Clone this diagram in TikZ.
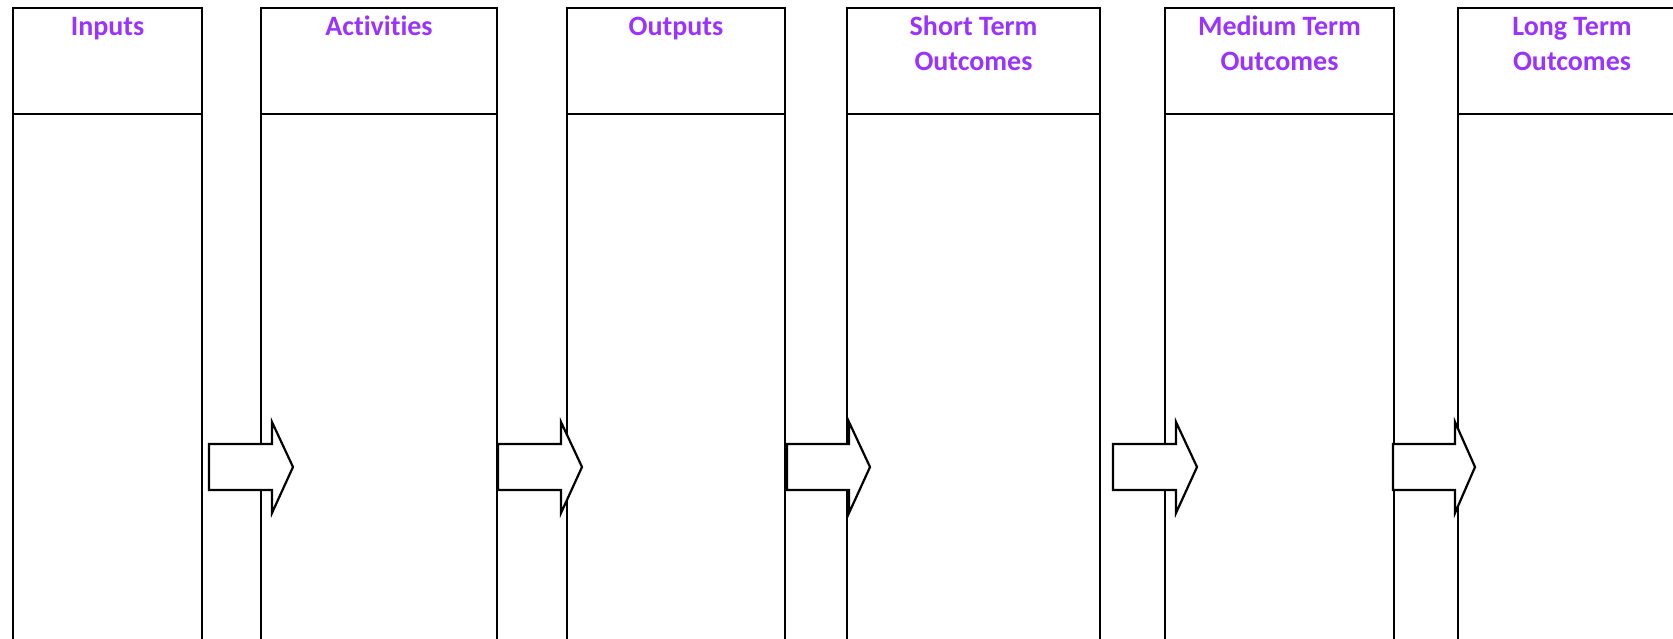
\documentclass[tikz,border=0pt]{standalone}
\usepackage{fontspec}
\setmainfont{Carlito}[Ligatures=NoCommon]
\usetikzlibrary{calc}
\definecolor{hdr}{RGB}{153,51,255}
\begin{document}
\begin{tikzpicture}[x=0.5pt,y=-0.5pt,line width=1.1pt,
  colbox/.style={draw=black,fill=white},
  hdrtext/.style={text=hdr,font=\fontsize{14pt}{17.5pt}\selectfont\bfseries,align=center,anchor=base,inner sep=0pt},
  blockarrow/.style={draw=black,fill=white,line width=1.1pt,line join=miter}]
\useasboundingbox (0,0) rectangle (1673,638);
\clip (0,0) rectangle (1673,638);
% columns: left/right/name/baseline of last line/text
\foreach \l/\r/\n/\b/\t in {13/202/inp/35/Inputs,261/497/act/35/Activities,567/785/out/35/Outputs,847/1100/st/70/Short Term\\Outcomes,1165/1394/mt/70/Medium Term\\Outcomes,1458/1686/lt/70/Long Term\\Outcomes}{
  \draw[colbox] (\l,8) rectangle (\r,700);
  \draw (\l,114) -- (\r,114);
  \node[hdrtext] (\n) at ({(\l+\r)/2},\b) {\t};
}
% block arrows: left x, head base x, tip x
\foreach \a/\b/\c in {209/272/293,498/561/582,787/849/870,1113/1176/1197,1393/1455/1475}{
  \draw[blockarrow] (\a,444) -- (\b,444) -- (\b,422) -- (\c,467) -- (\b,513) -- (\b,490) -- (\a,490) -- cycle;
}
\end{tikzpicture}
\end{document}
